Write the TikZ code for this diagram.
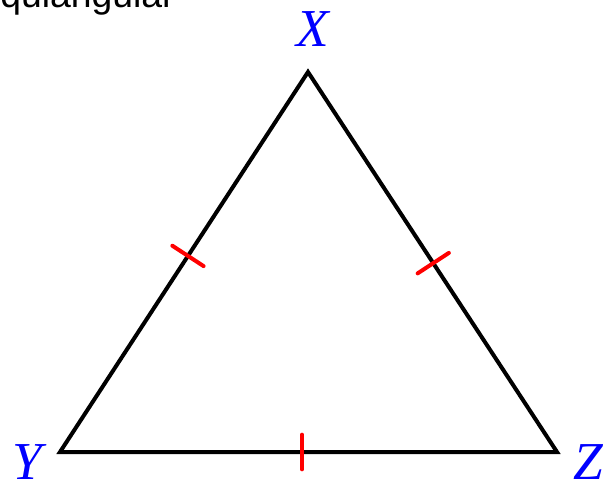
\documentclass[tikz,border=0pt]{standalone}
\usepackage{fontspec}
\setmainfont{Liberation Serif}
\setsansfont{Liberation Sans}
\usetikzlibrary{calc}
\definecolor{ink}{HTML}{000000}
\definecolor{vertexBlue}{HTML}{0000FF}
\definecolor{tickRed}{HTML}{FF0000}
\tikzset{
    side/.style={draw=ink, line width=3pt},
    tick mark/.style={draw=tickRed, line width=3pt, line cap=round},
    vertex label/.style={text=vertexBlue, inner sep=0pt,
                        font=\fontsize{40}{44}\selectfont\itshape},
    caption text/.style={text=ink, inner sep=0pt,
                        font=\sffamily\fontsize{28}{31}\selectfont},
}

\begin{document}
\begin{tikzpicture}[x=0.75pt, y=-0.75pt]

% Page frame in pixel units of the figure.
\useasboundingbox (0,0) rectangle (603,481);

% Caption, cut off by the top edge.
\node[caption text, anchor=base east] (cap) at (175,8) {equiangular};

% Vertices and their labels.
\coordinate (X) at (308,72);
\coordinate (Y) at (60,452);
\coordinate (Z) at (557,452);
\node[vertex label, anchor=base] (lX) at (313,47) {X};
\node[vertex label, anchor=base] (lY) at (27,479) {Y};
\node[vertex label, anchor=base] (lZ) at (588,479) {Z};

% The triangle.
\draw[side] (X) -- (Y) -- (Z) -- cycle;

% Equal-side tick marks.
\coordinate (mXY) at ($(X)!0.484!(Y)$);
\coordinate (mXZ) at ($(X)!0.503!(Z)$);
\coordinate (mYZ) at ($(Y)!0.487!(Z)$);
\draw[tick mark] ($(mXY)!14pt!90:(Y)$) -- ($(mXY)!14pt!-90:(Y)$);
\draw[tick mark] ($(mXZ)!14pt!90:(Z)$) -- ($(mXZ)!14pt!-90:(Z)$);
\draw[tick mark] ($(mYZ)!13pt!90:(Z)$) -- ($(mYZ)!13pt!-90:(Z)$);

\end{tikzpicture}
\end{document}
